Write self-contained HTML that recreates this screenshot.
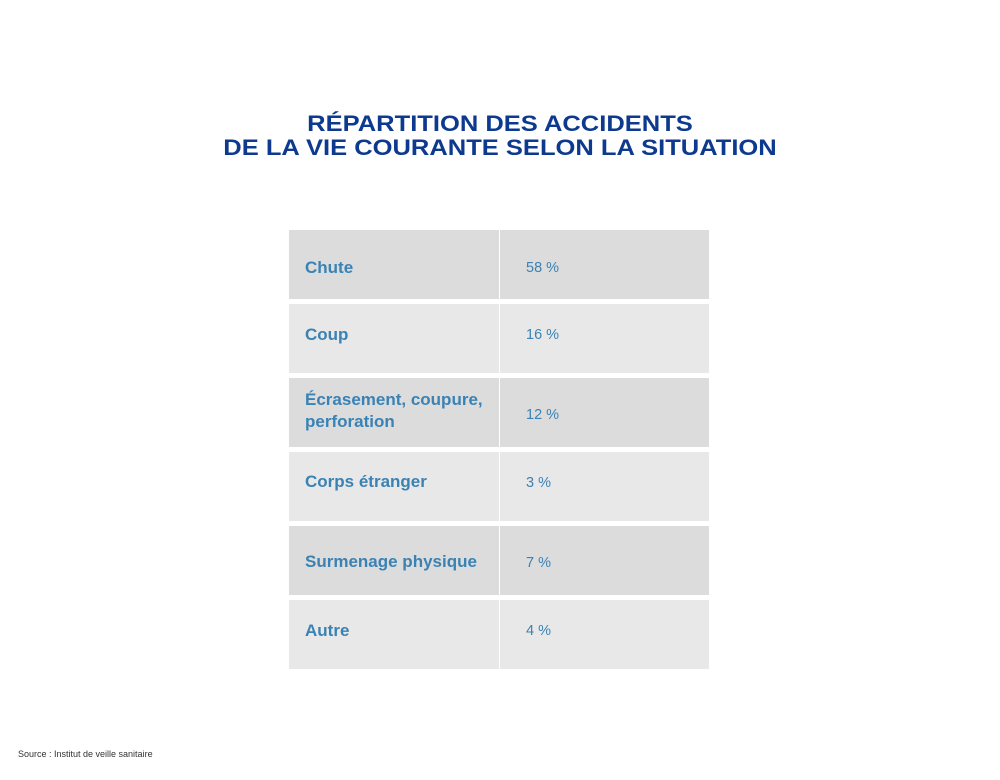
<!DOCTYPE html>
<html><head><meta charset="utf-8">
<style>
body{margin:0;width:1000px;height:780px;background:#fff;position:relative;font-family:"Liberation Sans",sans-serif;overflow:hidden}
.title{position:absolute;left:0;width:1000px;top:112px;text-align:center;color:#0d3a8e;font-weight:bold;font-size:22px;line-height:24px;transform:scaleX(1.16);transform-origin:500px 0}
.row{position:absolute;left:289px;width:420px;height:69px}
.row .lab{position:absolute;left:0;top:0;width:210px;height:69px;padding-left:16px;box-sizing:border-box;color:#3a82b4;font-weight:bold;font-size:17px;line-height:22px;white-space:nowrap}
.row .val{position:absolute;left:211px;top:0;width:209px;height:69px;padding-left:26px;box-sizing:border-box;color:#3a82b4;font-size:14.5px;line-height:22px}
.d .lab,.d .val{background:#dcdcdc}
.l .lab,.l .val{background:#e8e8e8}
.src{position:absolute;left:18px;top:749px;font-size:9px;color:#333}
</style></head><body>
<div class="title">RÉPARTITION DES ACCIDENTS<br>DE LA VIE COURANTE SELON LA SITUATION</div>
<div class="row d" style="top:230px"><div class="lab" style="padding-top:27px">Chute</div><div class="val" style="padding-top:27px">58 %</div></div>
<div class="row l" style="top:304px"><div class="lab" style="padding-top:20px">Coup</div><div class="val" style="padding-top:20px">16 %</div></div>
<div class="row d" style="top:378px"><div class="lab" style="padding-top:11px">Écrasement, coupure,<br>perforation</div><div class="val" style="padding-top:26px">12 %</div></div>
<div class="row l" style="top:452px"><div class="lab" style="padding-top:19px">Corps étranger</div><div class="val" style="padding-top:20px">3 %</div></div>
<div class="row d" style="top:526px"><div class="lab" style="padding-top:25px">Surmenage physique</div><div class="val" style="padding-top:26px">7 %</div></div>
<div class="row l" style="top:600px"><div class="lab" style="padding-top:20px">Autre</div><div class="val" style="padding-top:20px">4 %</div></div>
<div class="src">Source : Institut de veille sanitaire</div>
</body></html>
